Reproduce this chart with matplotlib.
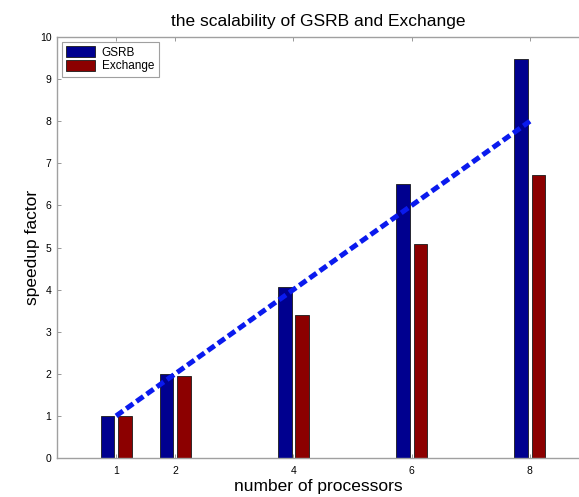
import matplotlib
matplotlib.use("Agg")
import matplotlib.pyplot as plt
import numpy as np

plt.rcParams['font.family'] = ['Liberation Sans', 'DejaVu Sans']

processors = [1, 2, 4, 6, 8]
gsrb = [1.0, 2.0, 4.05, 6.5, 9.48]
exchange = [1.0, 1.95, 3.4, 5.08, 6.72]
ideal = [1, 8]

fig = plt.figure(figsize=(5.79, 4.97), dpi=100)
ax = fig.add_axes([0.0984, 0.0785, 0.9016, 0.847])

x = np.array(processors, dtype=float)
w = 0.23
ax.bar(x - 0.148, gsrb, width=w, color='#00008f', edgecolor='#1a1a1a',
       linewidth=0.6, label='GSRB', zorder=2)
ax.bar(x + 0.148, exchange, width=w, color='#8c0000', edgecolor='#1a1a1a',
       linewidth=0.6, label='Exchange', zorder=2)
ax.plot(ideal, ideal, linestyle=(0, (1.7, 0.8)), color='#0a1aee',
        linewidth=3.6, zorder=3)

ax.set_xlim(0, 8.83)
ax.set_ylim(0, 10)
ax.set_xticks(processors)
ax.set_yticks(range(0, 11))
ax.tick_params(direction='in', length=3, width=0.6, color='#888888',
               labelsize=7.5, top=True, right=False)
ax.tick_params(axis='x', pad=6)
ax.tick_params(axis='y', pad=4)

for side in ['left', 'bottom', 'top']:
    ax.spines[side].set_color('#a0a0a0')
    ax.spines[side].set_linewidth(1.0)
ax.spines['right'].set_visible(False)

ax.set_title('the scalability of GSRB and Exchange', fontsize=12.5, pad=8)
ax.set_xlabel('number of processors', fontsize=12.5, labelpad=2)
ax.set_ylabel('speedup factor', fontsize=12.5, labelpad=0)

leg = ax.legend(loc='upper left', fontsize=8.5, frameon=True, fancybox=False,
                borderpad=0.4, handlelength=2.4, handleheight=1.0,
                handletextpad=0.6, borderaxespad=0.4, labelspacing=0.1)
leg.get_frame().set_edgecolor('#888888')
leg.get_frame().set_linewidth(0.8)

fig.savefig('out.png', dpi=100)
